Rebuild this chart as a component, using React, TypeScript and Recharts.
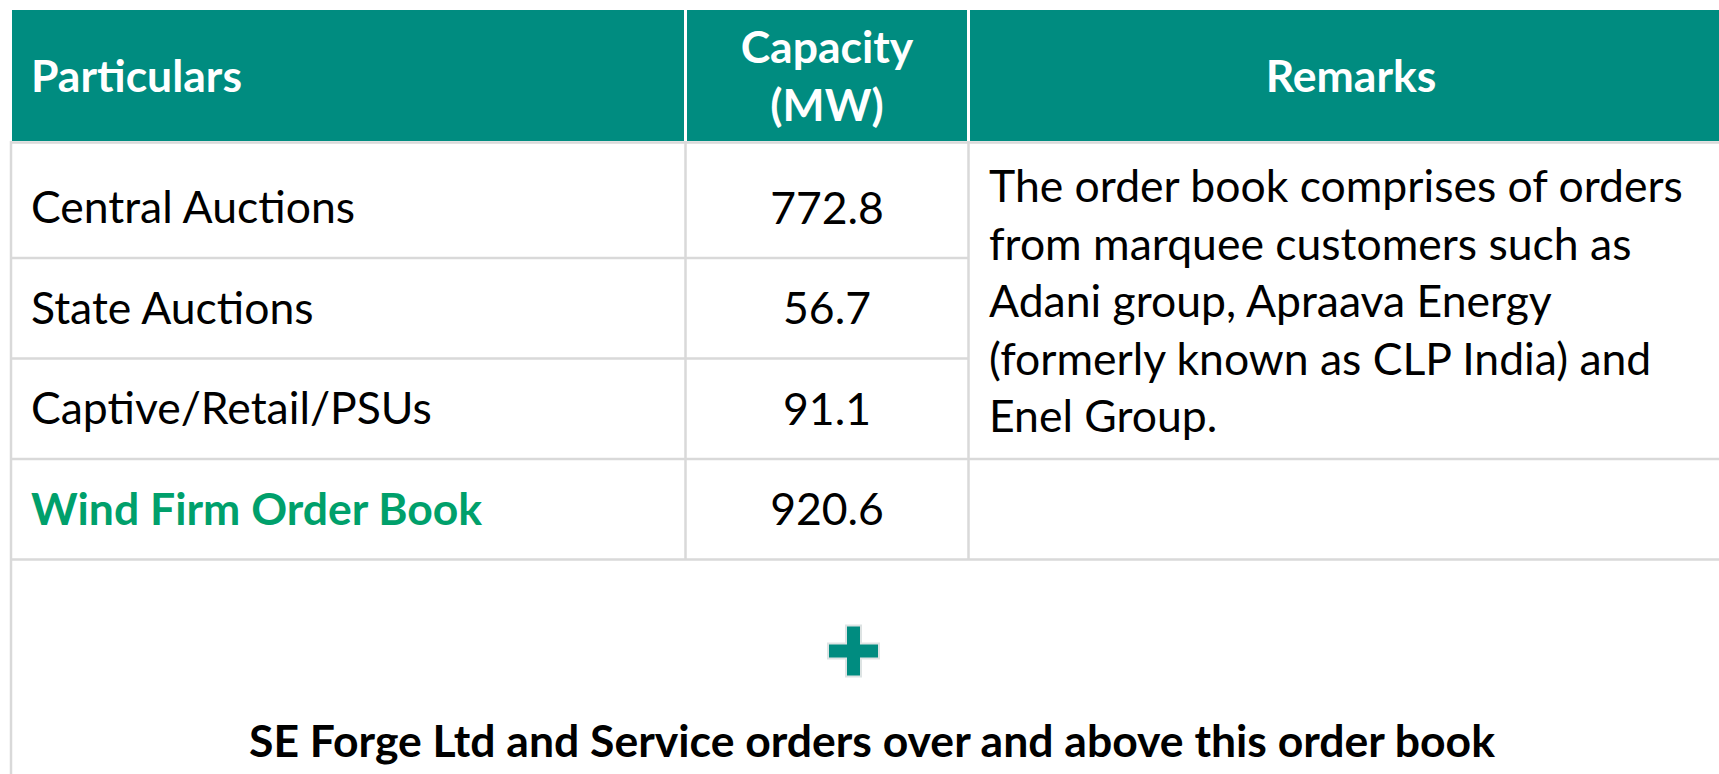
import { ComposedChart, Bar, XAxis, YAxis, Customized } from "recharts";

const particulars = ["Central Auctions", "State Auctions", "Captive/Retail/PSUs", "Wind Firm Order Book"];
const capacityMW = [772.8, 56.7, 91.1, 920.6];
const headerCapacity = ["Capacity", "(MW)"];
const remarksLines = [
  "The order book comprises of orders",
  "from marquee customers such as",
  "Adani group, Apraava Energy",
  "(formerly known as CLP India) and",
  "Enel Group.",
];
const footNote = "SE Forge Ltd and Service orders over and above this order book";

const rows = particulars.map((name, i) => ({ name, capacity: capacityMW[i] }));

const W = 1719;
const H = 774;
const LEFT = 11;
const COL2 = 685.5;
const COL3 = 968.5;
const HEAD_TOP = 10;
const HEAD_BOTTOM = 141;
const BODY_TOP = 157;
const BODY_BOTTOM = 559;

const TEAL = "#008C80";
const GRID = "#D9D9D9";
const GREEN = "#00A06B";
const FONT = "Lato, 'Noto Sans', sans-serif";
const FS = 44.5;

const RowLabel = (props: any) => {
  const { y, payload, index } = props;
  const last = index === particulars.length - 1;
  return (
    <text x={31} y={y + 16} fontSize={FS} fontFamily={FONT} fill={last ? GREEN : "#000"} fontWeight={last ? 700 : 400}>
      {payload.value}
    </text>
  );
};

// each bar is one table row: value text in the capacity column + the row's bottom rule
const RowCell = (props: any) => {
  const { y, height, index, payload } = props;
  const lineEnd = index < 2 ? COL3 : W;
  return (
    <g>
      <text x={(COL2 + COL3) / 2} y={y + height / 2 + 16} textAnchor="middle" fontSize={FS} fontFamily={FONT} fill="#000">
        {payload.capacity.toFixed(1)}
      </text>
      <line x1={LEFT} x2={lineEnd} y1={y + height} y2={y + height} stroke={GRID} strokeWidth={2.5} />
    </g>
  );
};

const TableFrame = () => {
  const cx = 853.5;
  const cy = 651;
  const a = 25.5;
  const t = 7.5;
  const plus = [
    [cx - t, cy - a], [cx + t, cy - a], [cx + t, cy - t], [cx + a, cy - t], [cx + a, cy + t], [cx + t, cy + t],
    [cx + t, cy + a], [cx - t, cy + a], [cx - t, cy + t], [cx - a, cy + t], [cx - a, cy - t], [cx - t, cy - t],
  ].map((p) => p.join(",")).join(" ");
  return (
    <g>
      <rect x={12} y={HEAD_TOP} width={W - 12} height={HEAD_BOTTOM - HEAD_TOP} fill={TEAL} />
      <line x1={COL2} x2={COL2} y1={HEAD_TOP} y2={HEAD_BOTTOM} stroke="#fff" strokeWidth={3} />
      <line x1={COL3} x2={COL3} y1={HEAD_TOP} y2={HEAD_BOTTOM} stroke="#fff" strokeWidth={3} />
      <text x={31} y={92} fontSize={FS} fontFamily={FONT} fontWeight={700} fill="#fff">Particulars</text>
      <text x={(COL2 + COL3) / 2} y={63} textAnchor="middle" fontSize={FS} fontFamily={FONT} fontWeight={700} fill="#fff">{headerCapacity[0]}</text>
      <text x={(COL2 + COL3) / 2} y={121} textAnchor="middle" fontSize={FS} fontFamily={FONT} fontWeight={700} fill="#fff">{headerCapacity[1]}</text>
      <text x={1351} y={92} textAnchor="middle" fontSize={FS} fontFamily={FONT} fontWeight={700} fill="#fff">Remarks</text>

      <line x1={LEFT} x2={W} y1={HEAD_BOTTOM + 1.5} y2={HEAD_BOTTOM + 1.5} stroke={GRID} strokeWidth={2.5} />
      <line x1={LEFT} x2={LEFT} y1={HEAD_BOTTOM} y2={H} stroke={GRID} strokeWidth={2.5} />
      <line x1={COL2} x2={COL2} y1={HEAD_BOTTOM} y2={BODY_BOTTOM} stroke={GRID} strokeWidth={2.5} />
      <line x1={COL3} x2={COL3} y1={HEAD_BOTTOM} y2={BODY_BOTTOM} stroke={GRID} strokeWidth={2.5} />

      {remarksLines.map((line, i) => (
        <text key={line} x={989} y={202 + i * 57.5} fontSize={FS} fontFamily={FONT} fill="#000">{line}</text>
      ))}

      <polygon points={plus} fill={TEAL} stroke="#DDE3E3" strokeWidth={2} />
      <text x={872} y={757} textAnchor="middle" fontSize={FS} fontFamily={FONT} fontWeight={700} fill="#000">{footNote}</text>
    </g>
  );
};

export default function App() {
  return (
    <div style={{ position: "absolute", left: 0, top: 0, width: W, height: H, background: "#fff" }}>
      <ComposedChart
        width={W}
        height={H}
        data={rows}
        layout="vertical"
        barCategoryGap={0}
        margin={{ top: BODY_TOP, right: 0, bottom: H - BODY_BOTTOM, left: 0 }}
      >
        <Customized component={<TableFrame />} />
        <XAxis type="number" hide domain={[0, 1000]} />
        <YAxis type="category" dataKey="name" width={LEFT} axisLine={false} tickLine={false} interval={0} tick={<RowLabel />} />
        <Bar dataKey="capacity" fill="transparent" shape={<RowCell />} isAnimationActive={false} />
      </ComposedChart>
    </div>
  );
}
